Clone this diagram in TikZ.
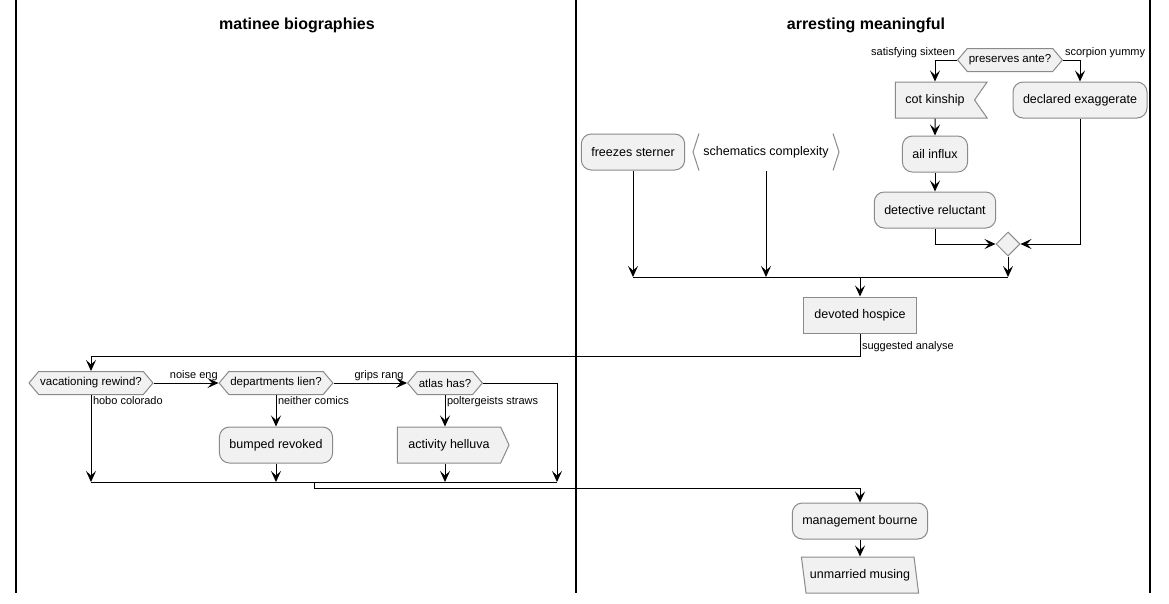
\documentclass[tikz,border=0pt]{standalone}
\usepackage{fontspec}
\setmainfont{Liberation Sans}
\usetikzlibrary{arrows.meta,shapes.symbols,shapes.geometric}
\definecolor{boxfill}{HTML}{F1F1F1}
\definecolor{boxline}{HTML}{8A8A8A}
\tikzset{
	>={Stealth[length=11pt,width=10pt,inset=4.5pt]},
	every path/.style={line width=1pt},
	act/.style={draw=boxline, fill=boxfill, rounded corners=10pt, minimum height=36pt, inner xsep=10pt, font=\fontsize{12.5}{14}\selectfont},
	plainbox/.style={draw=boxline, fill=boxfill, minimum height=36pt, inner xsep=11pt, font=\fontsize{12.5}{14}\selectfont},
	choice/.style={signal, signal to=west and east, signal pointer angle=100, draw=boxline, fill=boxfill, minimum height=23pt, inner xsep=1.5pt, inner ysep=1pt, font=\fontsize{11.5}{13}\selectfont},
	lbl/.style={font=\fontsize{11}{12}\selectfont, inner sep=1.5pt},
	title/.style={font=\bfseries\fontsize{16}{18}\selectfont},
	lane/.style={line width=1.8pt}
}
\begin{document}
\begin{tikzpicture}[x=1pt,y=-1pt]
		\useasboundingbox (0,0) rectangle (1169,603);
		\draw [lane] (16,0) -- (16,593);
		\draw [lane] (576,0) -- (576,593);
		\draw [lane] (1150,0) -- (1150,593);
		\node [title](Matinee)at (297,25) {matinee biographies};
		\node [title](Arresting)at (866,25) {arresting meaningful};

		\node [choice](Preserves)at (1010,60) {preserves ante?};
		\node [plainbox, signal, signal to=nowhere, signal from=east, signal pointer angle=110, inner xsep=10pt](Cot)at (935,100) {cot kinship};
		\node [act](Declared)at (1080,100) {declared exaggerate};
		\node [act](Ail)at (935,154) {ail influx};
		\node [act](Detective)at (935,210) {detective reluctant};
		\node [diamond, draw=boxline, fill=boxfill, minimum width=24pt, minimum height=24pt, inner sep=0pt](Merge)at (1008,244) {};
		\node [act](Freezes)at (633,152) {freezes sterner};
		\node [minimum height=36pt, inner xsep=10pt, font=\fontsize{12.5}{14}\selectfont](Schematics)at (766,152) {schematics complexity};
		\draw [boxline] ([xshift=6pt]Schematics.north west) -- (Schematics.west) -- ([xshift=6pt]Schematics.south west);
		\draw [boxline] ([xshift=-6pt]Schematics.north east) -- (Schematics.east) -- ([xshift=-6pt]Schematics.south east);
		\node [plainbox](Devoted)at (860,315) {devoted hospice};
		\coordinate (BarTopL) at (633,277);
		\coordinate (BarTopR) at (1008,277);

		\node [choice](Vacationing)at (91,383) {vacationing rewind?};
		\node [choice](Departments)at (276,383) {departments lien?};
		\node [choice](Atlas)at (445,383) {atlas has?};
		\node [act](Bumped)at (276,445) {bumped revoked};
		\node [plainbox, signal, signal to=east, signal pointer angle=130](Activity)at (449,445) {activity helluva};
		\coordinate (BarLowL) at (91,482);
		\coordinate (BarLowR) at (557,482);
		\coordinate (BarLowMid) at (314,482);
		\node [act](Management)at (860,521) {management bourne};
		\node [trapezium, trapezium stretches body, trapezium left angle=104, trapezium right angle=76, draw=boxline, fill=boxfill, minimum height=36pt, inner xsep=4pt, font=\fontsize{12.5}{14}\selectfont](Unmarried)at (860,575) {unmarried musing};

		\draw [->](Preserves.west) node [lbl, anchor=south east]{satisfying sixteen} -| (Cot.north);
		\draw [->](Preserves.east) node [lbl, anchor=south west]{scorpion yummy} -| (Declared.north);
		\draw [->](Cot)--(Ail);
		\draw [->](Ail)--(Detective);
		\draw [->](Detective.south) |- (Merge.west);
		\draw [->](Declared.south) |- (Merge.east);
		\draw [->](Merge.south)--(Merge.south |- BarTopR);
		\draw [->](Freezes.south)--(Freezes.south |- BarTopL);
		\draw [->](Schematics.south)--(Schematics.south |- BarTopL);
		\draw (BarTopL)--(BarTopR);
		\draw [->](BarTopL -| Devoted)--(Devoted.north);
		\draw [->](Devoted.south) -- node [lbl, anchor=west, pos=0.55]{suggested analyse} ++(0,23) -| (Vacationing.north);

		\draw [->](Vacationing.east) -- node [lbl, anchor=south, pos=0.62]{noise eng} (Departments.west);
		\draw [->](Departments.east) -- node [lbl, anchor=south, pos=0.62]{grips rang} (Atlas.west);
		\draw [->](Vacationing.south) node [lbl, anchor=north west]{hobo colorado} -- (Vacationing.south |- BarLowL);
		\draw [->](Departments.south) node [lbl, anchor=north west]{neither comics} -- (Bumped.north);
		\draw [->](Atlas.south) node [lbl, anchor=north west]{poltergeists straws} -- (Atlas.south |- Activity.north);
		\draw [->](Atlas.east) -| (BarLowR);
		\draw [->](Bumped.south)--(Bumped.south |- BarLowL);
		\draw [->](Atlas.south |- Activity.south)--(Atlas.south |- BarLowL);
		\draw (BarLowL)--(BarLowR);
		\draw [->](BarLowMid) -- ++(0,6) -| (Management.north);
		\draw [->](Management)--(Unmarried);
	\end{tikzpicture}
\end{document}
